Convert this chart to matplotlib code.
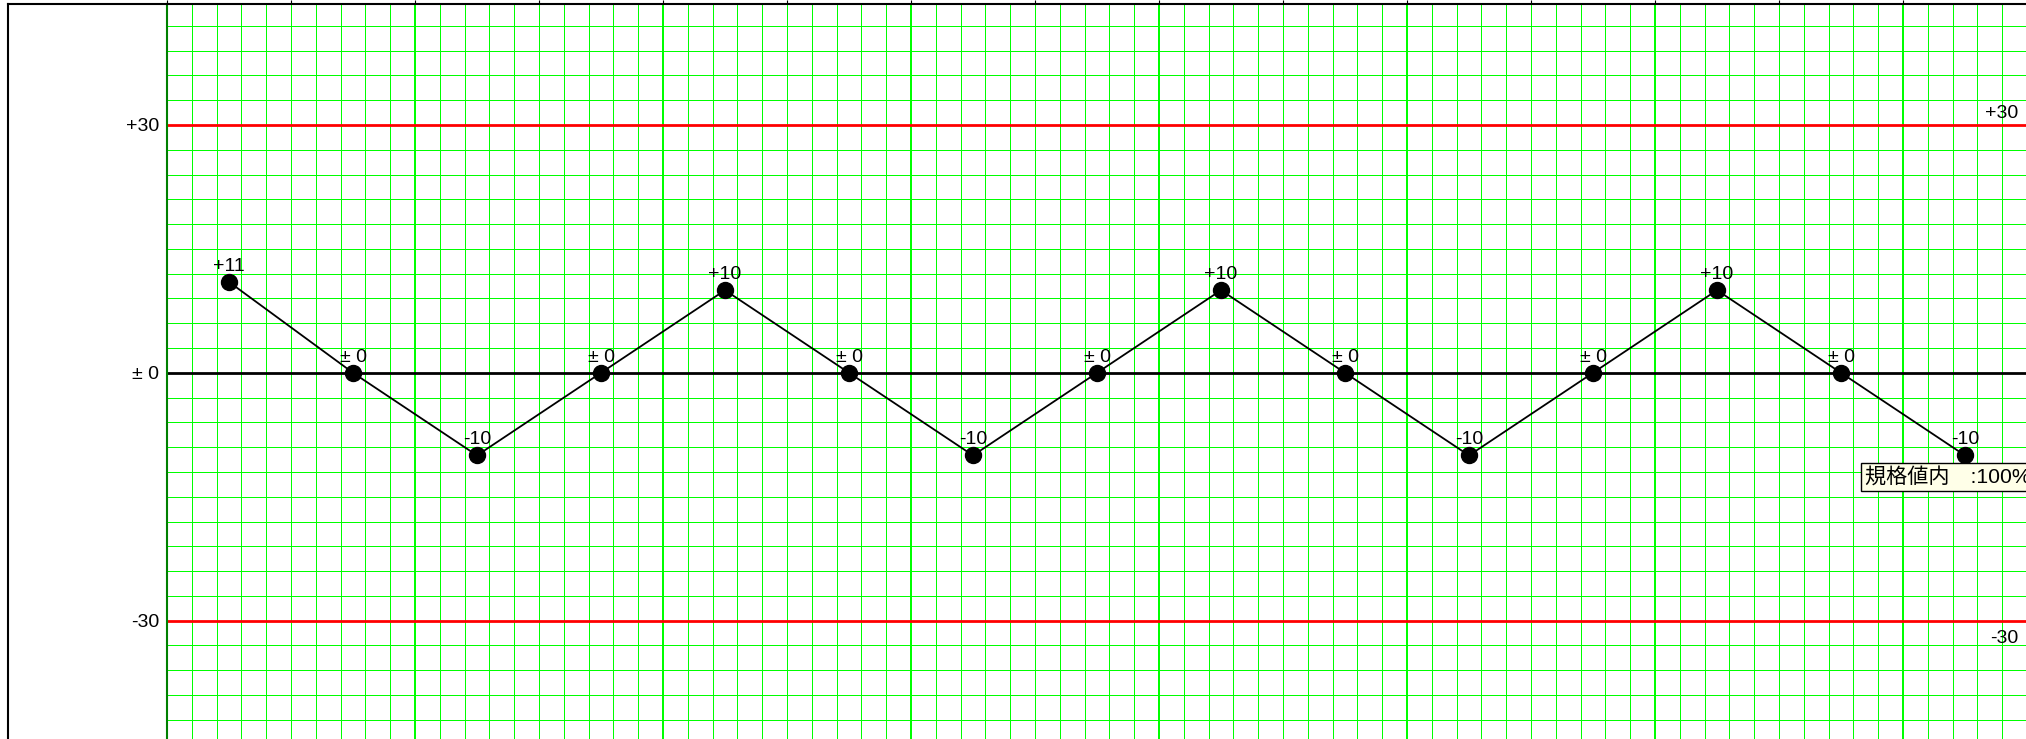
import numpy as np
import matplotlib
matplotlib.use("Agg")
import matplotlib.pyplot as plt
import matplotlib.transforms as mtransforms
from matplotlib.lines import Line2D

plt.rcParams['font.family'] = ['Liberation Sans', 'Noto Sans CJK JP', 'DejaVu Sans']

# ---- data ----
values = [11, 0, -10, 0, 10, 0, -10, 0, 10, 0, -10, 0, 10, 0, -10]
upper_limit = 30
lower_limit = -30
limit_labels = ["+30", "± 0", "-30"]
status_text = "規格値内\u3000:100%"


def fmt(v):
    if v > 0:
        return f"+{v}"
    if v < 0:
        return f"-{abs(v)}"
    return "± 0"


W, H = 2026, 739
DPI = 100
fig = plt.figure(figsize=(W / DPI, H / DPI), dpi=DPI)
fig.patch.set_facecolor("white")

ax_left = 167 / W
ax_top = 1 - 4 / H
ax = fig.add_axes([ax_left, 0, 1 - ax_left, ax_top])

x = np.arange(len(values))
x0 = -0.5
x1 = x0 + (W - 167) / 124.0
ax.set_xlim(x0, x1)
ax.set_ylim(-44.32, 44.64)

# grid
green = "#00ff00"
for xv in np.arange(x0, x1 + 0.01, 0.2):
    k = int(round((xv - x0) / 0.2))
    if k == 0:
        continue
    lw = 1.44 if k % 10 == 0 else 0.72
    ax.axvline(xv, color=green, lw=lw, zorder=1)
for yv in np.arange(-42, 45, 3):
    if yv in (0, 30, -30):
        continue
    ax.axhline(yv, color=green, lw=0.72, zorder=1)

# reference lines
ax.axhline(0, color="black", lw=2.0, zorder=2)
ax.axhline(upper_limit, color="#ff0000", lw=2.0, zorder=2)
ax.axhline(lower_limit, color="#ff0000", lw=2.0, zorder=2)

# data
ax.plot(x, values, color="black", lw=1.3, zorder=3)
ax.plot(x, values, "o", color="black", markersize=11.5, zorder=4)
for xi, v in zip(x, values):
    ax.annotate(fmt(v), xy=(xi, v), xytext=(0, 8), textcoords="offset points",
                ha="center", va="baseline", fontsize=14, zorder=5)

# y labels
ax.set_yticks([upper_limit, 0, lower_limit])
ax.set_yticklabels(limit_labels, fontsize=14)
ax.tick_params(axis="y", length=0, pad=5.5)

# top ticks
ax.xaxis.tick_top()
ax.set_xticks(np.arange(x0, x1, 1.0))
ax.set_xticklabels([])
ax.tick_params(axis="x", direction="out", length=3, width=0.8, color="black")

for s in ["right", "bottom"]:
    ax.spines[s].set_visible(False)
ax.spines["left"].set_color("#008000")
ax.spines["left"].set_linewidth(1.5)
ax.spines["top"].set_color("black")
ax.spines["top"].set_linewidth(1.5)

# right-side limit labels
trans = mtransforms.blended_transform_factory(ax.transAxes, ax.transData)
xr = (2018 - 167) / (W - 167)
ax.annotate(limit_labels[0], xy=(xr, upper_limit), xycoords=trans, xytext=(0, 5),
            textcoords="offset points", ha="right", va="baseline", fontsize=14)
ax.annotate(limit_labels[2], xy=(xr, lower_limit), xycoords=trans, xytext=(0, -6.5),
            textcoords="offset points", ha="right", va="top", fontsize=14)

# status box at last point
ax.annotate(status_text, xy=(x[-1], values[-1]), xytext=(-72, -8.3),
            textcoords="offset points", ha="left", va="top", fontsize=15.2,
            bbox=dict(boxstyle="square,pad=0.19", fc="#ffffe8", ec="black", lw=1.0),
            zorder=6, annotation_clip=False)

# outer frame
fig.add_artist(Line2D([8 / W, 8 / W], [0, 1 - 4 / H], color="black", lw=1.5,
                      transform=fig.transFigure))
fig.add_artist(Line2D([8 / W, ax_left], [1 - 4 / H, 1 - 4 / H], color="black", lw=1.5,
                      transform=fig.transFigure))

fig.savefig("out.png", dpi=DPI)
